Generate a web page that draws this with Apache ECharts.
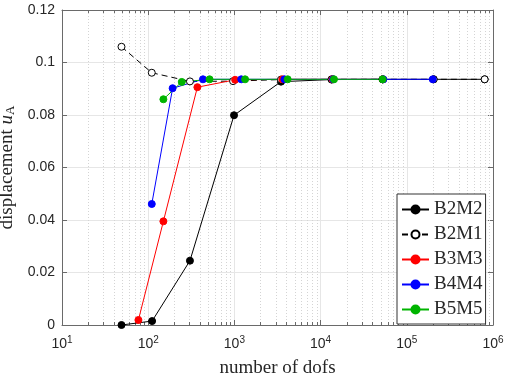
<!DOCTYPE html>
<html>
<head>
<meta charset="utf-8">
<script src="https://cdn.jsdelivr.net/npm/echarts@6/dist/echarts.min.js"></script>
<style>html,body{margin:0;padding:0;background:#fff}#c{width:506px;height:379px}</style>
</head>
<body>
<div id="c"></div>
<script>
// Data
const seriesNames = ['B2M2', 'B2M1', 'B3M3', 'B4M4', 'B5M5'];
const dofsB2M2 = [49, 111, 305, 990, 3470, 13400, 52300, 205000, 800000];
const uB2M2    = [0.0000, 0.0015, 0.0245, 0.0799, 0.0927, 0.0935, 0.0936, 0.0936, 0.0936];
const dofsB2M1 = [49, 110, 305, 965, 3470, 13400, 52300, 205000, 800000];
const uB2M1    = [0.1060, 0.0961, 0.0928, 0.0929, 0.0935, 0.0936, 0.0936, 0.0936, 0.0936];
const dofsB3M3 = [77, 150, 372, 1020, 3600, 13800, 53000];
const uB3M3    = [0.0019, 0.0395, 0.0906, 0.0934, 0.0936, 0.0936, 0.0936];
const dofsB4M4 = [110, 192, 432, 1200, 3800, 14000, 53500, 200000];
const uB4M4    = [0.0461, 0.0902, 0.0936, 0.0936, 0.0936, 0.0936, 0.0936, 0.0936];
const dofsB5M5 = [150, 245, 515, 1330, 4150, 14300, 52500];
const uB5M5    = [0.0860, 0.0926, 0.0936, 0.0936, 0.0936, 0.0936, 0.0936];
const yTicks = [0, 0.02, 0.04, 0.06, 0.08, 0.1, 0.12];
const xDecades = [1, 2, 3, 4, 5, 6];

const minorVals = [];
for (let e = 1; e < 6; e++) for (let k = 2; k <= 9; k++) minorVals.push([k * Math.pow(10, e)]);

const pair = (xs, ys) => xs.map((x, i) => [x, ys[i]]);
const chart = echarts.init(document.getElementById('c'), null, {renderer: 'canvas'});
const axisCol = '#6a6a6a';
const txtCol = '#262626';
const serif = 'Liberation Serif';
const sans = 'Liberation Sans';

function lineSeries(name, data, color, opts) {
  return Object.assign({
    name, type: 'line', data, symbol: 'circle', symbolSize: 7,
    lineStyle: {color, width: 1},
    itemStyle: {color, borderColor: color, borderWidth: 1},
    emphasis: {disabled: true}, animation: false, z: 3
  }, opts || {});
}

const option = {
  animation: false,
  grid: {left: 62, top: 10, width: 431, height: 315, containLabel: false, outerBoundsMode: 'none'},
  legend: {
    data: seriesNames, orient: 'vertical', left: 397, top: 194,
    itemWidth: 27, itemHeight: 10, itemGap: 6, padding: [6, 3, 5, 4],
    backgroundColor: '#fff', borderColor: '#333', borderWidth: 1, borderRadius: 0,
    textStyle: {fontFamily: serif, fontSize: 19, color: txtCol},
    selectedMode: false
  },
  xAxis: [{
    type: 'log', logBase: 10, min: 10, max: 1e6,
    name: 'number of dofs', nameLocation: 'middle', nameGap: 34,
    nameTextStyle: {fontFamily: serif, fontSize: 19, color: txtCol},
    axisLine: {show: true, onZero: false, lineStyle: {color: axisCol, width: 1}},
    axisTick: {show: true, inside: true, length: 5, lineStyle: {color: axisCol}},
    axisLabel: {
      margin: 10, color: txtCol,
      formatter: v => '{b|10}{s|' + Math.round(Math.log10(v)) + '}',
      rich: {
        b: {fontFamily: sans, fontSize: 14, color: txtCol},
        s: {fontFamily: sans, fontSize: 10, color: txtCol, padding: [0, 0, 9, 0]}
      }
    },
    splitLine: {show: true, lineStyle: {color: '#e6e6e6', width: 1}}
  }, {
    type: 'log', logBase: 10, min: 10, max: 1e6, position: 'top',
    axisLine: {show: true, onZero: false, lineStyle: {color: axisCol, width: 1}},
    axisTick: {show: true, inside: true, length: 5, lineStyle: {color: axisCol}},
    axisLabel: {show: false}, splitLine: {show: false}
  }],
  yAxis: [{
    type: 'value', min: 0, max: 0.12, interval: 0.02,
    name: '{a|displacement }{i|u}{s|A}', nameLocation: 'middle', nameGap: 39, nameRotate: 90,
    nameTextStyle: {
      rich: {
        a: {fontFamily: serif, fontSize: 19, color: txtCol},
        i: {fontFamily: serif, fontSize: 19, fontStyle: 'italic', color: txtCol},
        s: {fontFamily: serif, fontSize: 13, color: txtCol, padding: [6, 0, 0, 0]}
      }
    },
    axisLine: {show: true, onZero: false, lineStyle: {color: axisCol, width: 1}},
    axisTick: {show: true, inside: true, length: 5, lineStyle: {color: axisCol}},
    axisLabel: {margin: 7, fontFamily: sans, fontSize: 14, color: txtCol},
    splitLine: {show: true, lineStyle: {color: '#e6e6e6', width: 1}}
  }, {
    type: 'value', min: 0, max: 0.12, interval: 0.02, position: 'right',
    axisLine: {show: true, onZero: false, lineStyle: {color: axisCol, width: 1}},
    axisTick: {show: true, inside: true, length: 5, lineStyle: {color: axisCol}},
    axisLabel: {show: false}, splitLine: {show: false}
  }],
  series: [
    {
      type: 'custom', name: 'minor', data: minorVals, silent: true, z: 1,
      encode: {x: 0},
      renderItem: function (params, api) {
        const cs = params.coordSys;
        const x = Math.round(api.coord([api.value(0), 0])[0]) + 0.5;
        const y0 = cs.y, y1 = cs.y + cs.height;
        return {
          type: 'group', children: [
            {type: 'line', shape: {x1: x, y1: y0, x2: x, y2: y1},
             style: {stroke: '#d4d4d4', lineWidth: 1, lineDash: [1, 2]}},
            {type: 'line', shape: {x1: x, y1: y1, x2: x, y2: y1 - 3},
             style: {stroke: axisCol, lineWidth: 1}},
            {type: 'line', shape: {x1: x, y1: y0, x2: x, y2: y0 + 3},
             style: {stroke: axisCol, lineWidth: 1}}
          ]
        };
      },
      animation: false
    },
    lineSeries('B2M2', pair(dofsB2M2, uB2M2), '#000000'),
    lineSeries('B2M1', pair(dofsB2M1, uB2M1), '#000000', {
      lineStyle: {color: '#000', width: 1, type: [6, 4]},
      itemStyle: {color: '#ffffff', borderColor: '#000000', borderWidth: 1},
      symbolSize: 7
    }),
    lineSeries('B3M3', pair(dofsB3M3, uB3M3), '#ff0000'),
    lineSeries('B4M4', pair(dofsB4M4, uB4M4), '#0000ff'),
    lineSeries('B5M5', pair(dofsB5M5, uB5M5), '#00b400')
  ]
};
chart.setOption(option);
</script>
</body>
</html>
